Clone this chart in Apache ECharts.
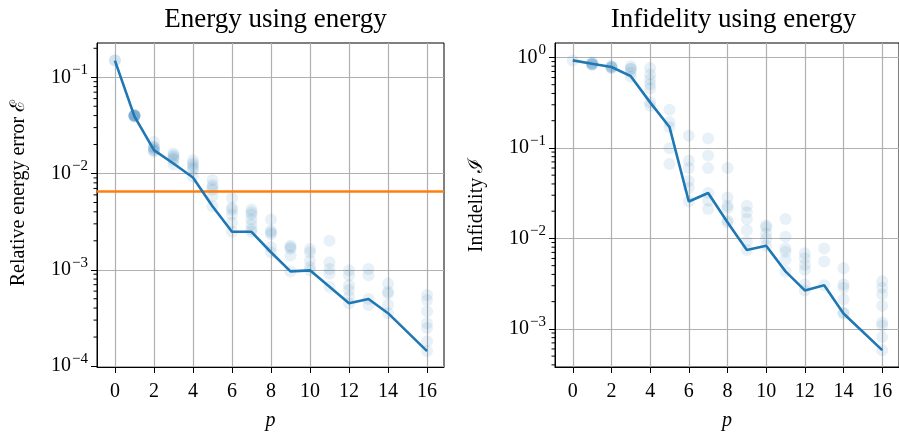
<!DOCTYPE html>
<html>
<head>
<meta charset="utf-8">
<script src="https://cdn.jsdelivr.net/npm/echarts@6/dist/echarts.min.js"></script>
<style>
  html, body { margin: 0; padding: 0; background: #fff; }
  #chart { width: 899px; height: 436px; }
</style>
</head>
<body>
<div id="chart"></div>
<script>
// p values of the lines (no point at p=15)
var pValues = [0, 1, 2, 3, 4, 5, 6, 7, 8, 9, 10, 11, 12, 13, 14, 16];
var energyLine = [0.149, 0.0393, 0.0175, 0.0127, 0.00908, 0.00457, 0.00248, 0.00248,
  0.00152, 0.000962, 0.000986, 0.000665, 0.000448, 0.000497, 0.000354, 0.000143];
var infidelityLine = [0.928, 0.854, 0.785, 0.621, 0.319, 0.1706, 0.0256, 0.0318,
  0.0151, 0.00743, 0.00828, 0.00432, 0.00266, 0.00304, 0.00148, 0.000582];
var energyThreshold = 0.00651;

// individual runs [p, value]
var energyRuns = [
  [0, 0.149], [0, 0.15],
  [1, 0.0405], [1, 0.040], [1, 0.040], [1, 0.0395], [1, 0.0395], [1, 0.039], [1, 0.0398], [1, 0.0402],
  [2, 0.0212], [2, 0.0189], [2, 0.0189], [2, 0.0182], [2, 0.0175], [2, 0.0175], [2, 0.0168],
  [3, 0.0161], [3, 0.0155], [3, 0.0149], [3, 0.0143], [3, 0.0137], [3, 0.0124],
  [4, 0.0137], [4, 0.0128], [4, 0.0122], [4, 0.0115], [4, 0.01086], [4, 0.0093],
  [5, 0.00857], [5, 0.00762], [5, 0.0072], [5, 0.00678], [5, 0.00579], [5, 0.00457],
  [6, 0.00557], [6, 0.0044], [6, 0.0042], [6, 0.00375], [6, 0.00308], [6, 0.00248],
  [7, 0.00423], [7, 0.00395], [7, 0.00375], [7, 0.00333], [7, 0.00296], [7, 0.00264], [7, 0.00248],
  [8, 0.00333], [8, 0.00254], [8, 0.00245], [8, 0.00234], [8, 0.00171], [8, 0.00152],
  [9, 0.00178], [9, 0.00171], [9, 0.00165], [9, 0.00141], [9, 0.000962],
  [10, 0.00164], [10, 0.00152], [10, 0.00125], [10, 0.00107], [10, 0.000986],
  [11, 0.002], [11, 0.0012], [11, 0.00102], [11, 0.00091], [11, 0.000665],
  [12, 0.000986], [12, 0.000877], [12, 0.000692], [12, 0.000615], [12, 0.000525], [12, 0.000448],
  [13, 0.00102], [13, 0.000877], [13, 0.00043], [13, 0.000497],
  [14, 0.000718], [14, 0.00059], [14, 0.000568], [14, 0.000432], [14, 0.000354],
  [16, 0.000546], [16, 0.000485], [16, 0.000368], [16, 0.000279], [16, 0.000248], [16, 0.000181], [16, 0.000143]
];
var infidelityRuns = [
  [0, 0.928],
  [1, 0.883], [1, 0.86], [1, 0.845], [1, 0.833], [1, 0.833], [1, 0.85],
  [2, 0.812], [2, 0.79], [2, 0.785], [2, 0.766], [2, 0.77],
  [3, 0.798], [3, 0.75], [3, 0.747], [3, 0.676], [3, 0.611],
  [4, 0.766], [4, 0.648], [4, 0.572], [4, 0.505], [4, 0.453], [4, 0.319], [4, 0.293],
  [5, 0.265], [5, 0.193], [5, 0.099], [5, 0.0663], [5, 0.1706],
  [6, 0.136], [6, 0.072], [6, 0.06], [6, 0.043], [6, 0.0363], [6, 0.0256],
  [7, 0.127], [7, 0.0824], [7, 0.06], [7, 0.0318], [7, 0.026], [7, 0.0211],
  [8, 0.06], [8, 0.0283], [8, 0.023], [8, 0.0216], [8, 0.0158], [8, 0.0151],
  [9, 0.023], [9, 0.0194], [9, 0.0164], [9, 0.0123], [9, 0.00916], [9, 0.00743],
  [10, 0.0139], [10, 0.0133], [10, 0.0113], [10, 0.00995], [10, 0.00828],
  [11, 0.0164], [11, 0.0104], [11, 0.00775], [11, 0.00713], [11, 0.0058], [11, 0.00432],
  [12, 0.00684], [12, 0.00603], [12, 0.0051], [12, 0.00451], [12, 0.0031], [12, 0.00266],
  [13, 0.00775], [13, 0.00555], [13, 0.00304],
  [14, 0.00469], [14, 0.0031], [14, 0.00284], [14, 0.00213], [14, 0.00152], [14, 0.00148],
  [16, 0.00336], [16, 0.00284], [16, 0.00241], [16, 0.0018], [16, 0.00118], [16, 0.00109], [16, 0.000813], [16, 0.000582]
];

// tick labels
var xTicks = [0, 2, 4, 6, 8, 10, 12, 14, 16];
var energyTicks = [1e-4, 1e-3, 1e-2, 1e-1];
var infidelityTicks = [1e-3, 1e-2, 1e-1, 1];
var minorMantissa = [2, 3, 4, 5, 6, 7, 8, 9];
var energyDecades = [1e-4, 1e-3, 1e-2, 1e-1];
var infidelityDecades = [1e-4, 1e-3, 1e-2, 1e-1, 1];

var blue = "#1f77b4";
var orange = "#ff7f0e";
var font = "'Liberation Serif', 'DejaVu Serif', serif";

function pairs(xs, ys) {
  return xs.map(function (x, i) { return [x, ys[i]]; });
}

function minorValues(decades, lo, hi) {
  var out = [];
  decades.forEach(function (d) {
    minorMantissa.forEach(function (m) {
      var v = m * d;
      if (v > lo && v < hi) out.push(v);
    });
  });
  return out;
}

function powLabel(v) {
  var e = Math.round(Math.log10(v));
  return "{b|10}{s|" + (e < 0 ? "\u2212" + (-e) : e) + "}";
}

var labelRich = {
  b: { fontFamily: font, fontSize: 20, color: "#000" },
  s: { fontFamily: font, fontSize: 15, color: "#000", padding: [0, 0, 14, 1] }
};

var xMin = -0.92, xMax = 16.87;
var eMin = 9.77e-5, eMax = 0.227;
var iMin = 3.79e-4, iMax = 1.445;

function xAxisOf(gi) {
  return {
    type: "value", gridIndex: gi, min: xMin, max: xMax,
    name: "p", nameLocation: "middle", nameGap: 44,
    nameTextStyle: { fontFamily: font, fontSize: 20, fontStyle: "italic", color: "#000" },
    axisLine: { show: true, onZero: false, lineStyle: { color: "#000", width: 1 } },
    axisTick: { show: true, length: 6, customValues: xTicks, lineStyle: { color: "#000" } },
    axisLabel: { customValues: xTicks, margin: 15, fontFamily: font, fontSize: 20, color: "#000" },
    splitLine: { show: true, customValues: xTicks, lineStyle: { color: "#b0b0b0", width: 1.2 } }
  };
}

function yAxisOf(gi, lo, hi, ticks, name, pad) {
  return {
    type: "log", logBase: 10, gridIndex: gi, min: lo, max: hi,
    name: name, nameLocation: "middle", nameGap: 68,
    nameTextStyle: { fontFamily: font, fontSize: 20, color: "#000", padding: pad },
    axisLine: { show: true, onZero: false, lineStyle: { color: "#000", width: 1 } },
    axisTick: { show: true, length: 6, customValues: ticks, lineStyle: { color: "#000" } },
    axisLabel: { customValues: ticks, margin: 9, formatter: powLabel, rich: labelRich },
    splitLine: { show: true, customValues: ticks, lineStyle: { color: "#b0b0b0", width: 1.2 } }
  };
}

function minorTicks(gi, values) {
  return {
    type: "custom", xAxisIndex: gi, yAxisIndex: gi, clip: false, silent: true, z: 5,
    data: values.map(function (v) { return [xMin, v]; }),
    renderItem: function (params, api) {
      var p = api.coord([api.value(0), api.value(1)]);
      return {
        type: "line",
        shape: { x1: p[0] - 3.5, y1: p[1], x2: p[0], y2: p[1] },
        style: { stroke: "#000", lineWidth: 1 }
      };
    }
  };
}

function runs(gi, data) {
  return {
    type: "scatter", xAxisIndex: gi, yAxisIndex: gi, data: data,
    symbol: "circle", symbolSize: 12, silent: true, z: 2,
    itemStyle: { color: blue, opacity: 0.1 }
  };
}

var chart = echarts.init(document.getElementById("chart"));
chart.setOption({
  animation: false,
  backgroundColor: "#fff",
  title: [
    { text: "Energy using energy", left: 270.5, top: 1, textAlign: "center",
      textStyle: { fontFamily: font, fontSize: 27, fontWeight: "normal", color: "#000" } },
    { text: "Infidelity using energy", left: 728.5, top: 1, textAlign: "center",
      textStyle: { fontFamily: font, fontSize: 27, fontWeight: "normal", color: "#000" } }
  ],
  grid: [
    { left: 97, top: 43, width: 347, height: 328, show: true, borderColor: "#000", borderWidth: 1 },
    { left: 555, top: 43, width: 347, height: 329, show: true, borderColor: "#000", borderWidth: 1 }
  ],
  xAxis: [xAxisOf(0), xAxisOf(1)],
  yAxis: [
    yAxisOf(0, eMin, eMax, energyTicks, "Relative energy error \u2130", [0, 0, 0, 24]),
    yAxisOf(1, iMin, iMax, infidelityTicks, "Infidelity \u2110", [0, 0, 0, 0])
  ],
  series: [
    runs(0, energyRuns),
    runs(1, infidelityRuns),
    {
      // horizontal threshold across the whole axes
      type: "line", xAxisIndex: 0, yAxisIndex: 0, symbol: "none", z: 3, silent: true,
      data: [[xMin, energyThreshold], [xMax, energyThreshold]],
      lineStyle: { color: orange, width: 2.6 }
    },
    {
      type: "line", xAxisIndex: 0, yAxisIndex: 0, data: pairs(pValues, energyLine),
      symbol: "none", z: 4, lineStyle: { color: blue, width: 2.6 }
    },
    {
      type: "line", xAxisIndex: 1, yAxisIndex: 1, data: pairs(pValues, infidelityLine),
      symbol: "none", z: 4, lineStyle: { color: blue, width: 2.6 }
    },
    minorTicks(0, minorValues(energyDecades, eMin, eMax)),
    minorTicks(1, minorValues(infidelityDecades, iMin, iMax))
  ]
});
</script>
</body>
</html>
